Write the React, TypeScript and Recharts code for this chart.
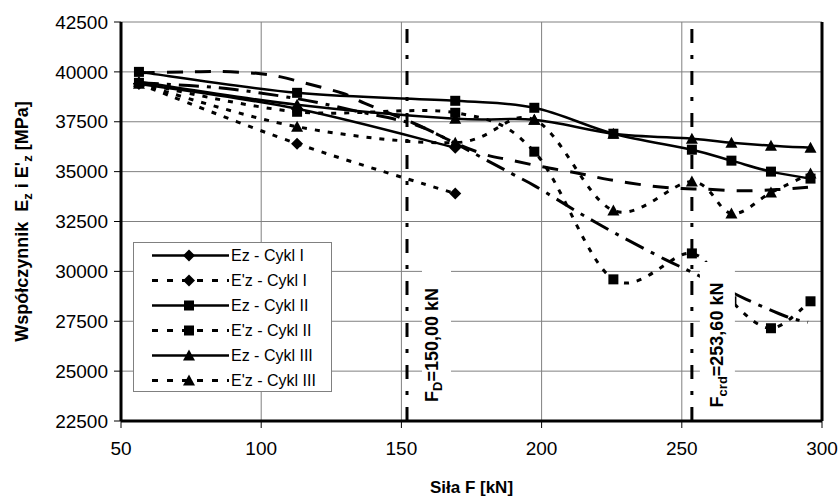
import React from "react";
import { LineChart, Line, XAxis, YAxis, CartesianGrid, ReferenceLine } from "recharts";

// load steps [kN]
const FORCE = [56.4, 112.8, 169.2, 197.4, 225.6, 253.6, 267.7, 281.8, 295.9];

// modulus values [MPa]
const EZ_CYKL_1 = [39400, 38150, 36200];
const EZP_CYKL_1 = [39400, 36400, 33900];
const EZ_CYKL_2 = [40000, 38950, 38550, 38200, 36900, 36100, 35550, 35000, 34650];
const EZP_CYKL_2 = [39450, 38000, 37950, 36000, 29600, 30900, 28500, 27150, 28500];
const EZ_CYKL_3 = [39500, 38350, 37650, 37600, 36900, 36650, 36450, 36300, 36200];
const EZP_CYKL_3 = [39400, 37250, 36450, 37600, 33050, 34500, 32900, 33950, 34900];

// trend lines (no legend entry)
const TREND_A_FORCE = [56.4, 73, 85, 99, 107, 114, 129, 137, 154, 161, 169, 180, 189, 200, 213, 224, 239, 250, 258, 271, 284, 295];
const TREND_A = [39950, 40000, 40020, 39920, 39750, 39500, 38930, 38420, 37450, 37000, 36450, 35850, 35580, 35250, 34920, 34600, 34280, 34150, 34120, 34040, 34100, 34220];
const TREND_B_FORCE = [56.4, 85, 113, 135, 155, 170, 182, 190, 198, 212, 220, 229, 244, 253, 265, 273, 287, 295];
const TREND_B = [39450, 39200, 38650, 38000, 37350, 36350, 35450, 34850, 34250, 33050, 32400, 31700, 30600, 30000, 29150, 28600, 27750, 27450];

const X_TICKS = [50, 100, 150, 200, 250, 300];
const Y_TICKS = [22500, 25000, 27500, 30000, 32500, 35000, 37500, 40000, 42500];

const F_D_LINE = 152;
const F_CRD_LINE = 253.6;

const FONT = "'Liberation Sans', Arial, sans-serif";

// plot box of the chart below (margins + axis sizes)
const PLOT_LEFT = 121;
const PLOT_WIDTH = 701;
const xToPx = (v: number) => PLOT_LEFT + ((v - 50) / 250) * PLOT_WIDTH;

const SERIES = [
    { name: "Ez - Cykl I", values: EZ_CYKL_1, marker: "diamond", dotted: false },
    { name: "E'z - Cykl I", values: EZP_CYKL_1, marker: "diamond", dotted: true },
    { name: "Ez - Cykl II", values: EZ_CYKL_2, marker: "square", dotted: false },
    { name: "E'z - Cykl II", values: EZP_CYKL_2, marker: "square", dotted: true },
    { name: "Ez - Cykl III", values: EZ_CYKL_3, marker: "triangle", dotted: false },
    { name: "E'z - Cykl III", values: EZP_CYKL_3, marker: "triangle", dotted: true },
];

const REF_LABELS = [
    { at: F_D_LINE, sub: "D", rest: "=150,00 kN", boxLeft: 15, boxWidth: 29 },
    { at: F_CRD_LINE, sub: "crd", rest: "=253,60 kN", boxLeft: 8, boxWidth: 35 },
];

const toPoints = (xs: number[], ys: number[]) => ys.map((y, i) => ({ x: xs[i], y }));

// Excel-like smoothed line (Catmull-Rom through the points)
const excelCurve = (context: any) => {
    let pts: number[][] = [];
    return {
        areaStart() {},
        areaEnd() {},
        lineStart() { pts = []; },
        point(x: number, y: number) { pts.push([+x, +y]); },
        lineEnd() {
            if (!pts.length) return;
            context.moveTo(pts[0][0], pts[0][1]);
            for (let i = 0; i < pts.length - 1; i++) {
                const p0 = pts[Math.max(i - 1, 0)];
                const p1 = pts[i];
                const p2 = pts[i + 1];
                const p3 = pts[Math.min(i + 2, pts.length - 1)];
                context.bezierCurveTo(
                    p1[0] + (p2[0] - p0[0]) / 6, p1[1] + (p2[1] - p0[1]) / 6,
                    p2[0] - (p3[0] - p1[0]) / 6, p2[1] - (p3[1] - p1[1]) / 6,
                    p2[0], p2[1]);
            }
        },
    };
};

const Marker = ({ cx, cy, shape }: { cx?: number; cy?: number; shape: string }) => {
    if (cx == null || cy == null) return <g />;
    if (shape === "diamond")
        return <polygon points={`${cx},${cy - 6} ${cx + 6},${cy} ${cx},${cy + 6} ${cx - 6},${cy}`} fill="#000" />;
    if (shape === "square")
        return <rect x={cx - 5} y={cy - 5} width={10} height={10} fill="#000" />;
    return <polygon points={`${cx},${cy - 6} ${cx + 6},${cy + 5} ${cx - 6},${cy + 5}`} fill="#000" />;
};

const YTitle = (props: any) => {
    const vb = props.viewBox;
    const cx = 22;
    const cy = vb.y + vb.height / 2;
    return (
        <text x={cx} y={cy} transform={`rotate(-90 ${cx} ${cy})`} textAnchor="middle" dominantBaseline="central"
              fontSize={18} fontWeight={700} fill="#000" fontFamily={FONT}>
            {"Współczynnik\u00a0\u00a0E"}<tspan dy={5} fontSize={13}>z</tspan>
            <tspan dy={-5}>{" i E'"}</tspan><tspan dy={5} fontSize={13}>z</tspan>
            <tspan dy={-5}>{" [MPa]"}</tspan>
        </text>
    );
};

// white-boxed rotated labels next to the F lines, drawn over the series
const RefLabels = () => (
    <svg width={840} height={498} style={{ position: "absolute", left: 0, top: 0, pointerEvents: "none" }}>
        {REF_LABELS.map(l => {
            const lx = xToPx(l.at);
            const cx = lx + 25;
            const cy = 345;
            return (
                <g key={l.sub}>
                    <rect x={lx + l.boxLeft} y={262} width={l.boxWidth} height={150} fill="#fff" />
                    <text x={cx} y={cy} transform={`rotate(-90 ${cx} ${cy})`} textAnchor="middle" dominantBaseline="central"
                          fontSize={18} fontWeight={700} fill="#000" fontFamily={FONT}>
                        F<tspan dy={5} fontSize={13}>{l.sub}</tspan><tspan dy={-5}>{l.rest}</tspan>
                    </text>
                </g>
            );
        })}
    </svg>
);

const LegendBox = () => (
    <div style={{ position: "absolute", left: 133, top: 242, width: 197, height: 148, background: "#fff",
                  border: "1px solid #808080", fontFamily: FONT, fontSize: 16, color: "#000" }}>
        {SERIES.map(s => (
            <div key={s.name} style={{ display: "flex", alignItems: "center", height: 25 }}>
                <svg width={97} height={25} style={{ marginLeft: 17 }}>
                    <line x1={1} y1={12.5} x2={78} y2={12.5} stroke="#000" strokeWidth={s.dotted ? 3 : 2.5}
                          strokeDasharray={s.dotted ? "6 9" : undefined} />
                    <Marker cx={38} cy={12.5} shape={s.marker} />
                </svg>
                <span style={{ marginLeft: -17 }}>{s.name}</span>
            </div>
        ))}
    </div>
);

export default function App() {
    return (
        <div style={{ position: "relative", width: 840, height: 498, fontFamily: FONT }}>
            <style>{"body{margin:0}"}</style>
            <LineChart width={840} height={498} margin={{ top: 22, right: 18, bottom: 0, left: 0 }}>
                <CartesianGrid stroke="#808080" strokeWidth={1} />
                <XAxis dataKey="x" type="number" domain={[50, 300]} ticks={X_TICKS} allowDataOverflow height={77}
                       tick={{ fill: "#000", fontSize: 19 }} tickSize={7} tickMargin={14}
                       axisLine={{ stroke: "#000", strokeWidth: 3 }} tickLine={{ stroke: "#000" }}
                       label={{ value: "Siła F [kN]", position: "insideBottom", offset: 5, fontSize: 17, fontWeight: 700, fill: "#000" }} />
                <YAxis type="number" domain={[22500, 42500]} ticks={Y_TICKS} allowDataOverflow width={121}
                       tick={{ fill: "#000", fontSize: 19 }} tickSize={7} tickMargin={6}
                       axisLine={{ stroke: "#000", strokeWidth: 3 }} tickLine={{ stroke: "#000" }}
                       label={<YTitle />} />
                <ReferenceLine x={300} stroke="#000" strokeWidth={3} />
                <Line data={toPoints(TREND_A_FORCE, TREND_A)} dataKey="y" type={excelCurve as any} stroke="#000"
                      strokeWidth={3} strokeDasharray="16 12" dot={false} activeDot={false} isAnimationActive={false} />
                <Line data={toPoints(TREND_B_FORCE, TREND_B)} dataKey="y" type={excelCurve as any} stroke="#000"
                      strokeWidth={3} strokeDasharray="20 8 4 8" dot={false} activeDot={false} isAnimationActive={false} />
                {SERIES.map(s => (
                    <Line key={s.name} name={s.name} data={toPoints(FORCE, s.values)} dataKey="y" type={excelCurve as any}
                          stroke="#000" strokeWidth={s.dotted ? 3 : 2.5} strokeDasharray={s.dotted ? "5 8" : undefined}
                          dot={(p: any) => <Marker key={p.index} cx={p.cx} cy={p.cy} shape={s.marker} />}
                          activeDot={false} isAnimationActive={false} />
                ))}
                <ReferenceLine x={F_D_LINE} stroke="#000" strokeWidth={3} strokeDasharray="14 12 4 12" />
                <ReferenceLine x={F_CRD_LINE} stroke="#000" strokeWidth={3} strokeDasharray="14 12 4 12" />
            </LineChart>
            <RefLabels />
            <LegendBox />
        </div>
    );
}
